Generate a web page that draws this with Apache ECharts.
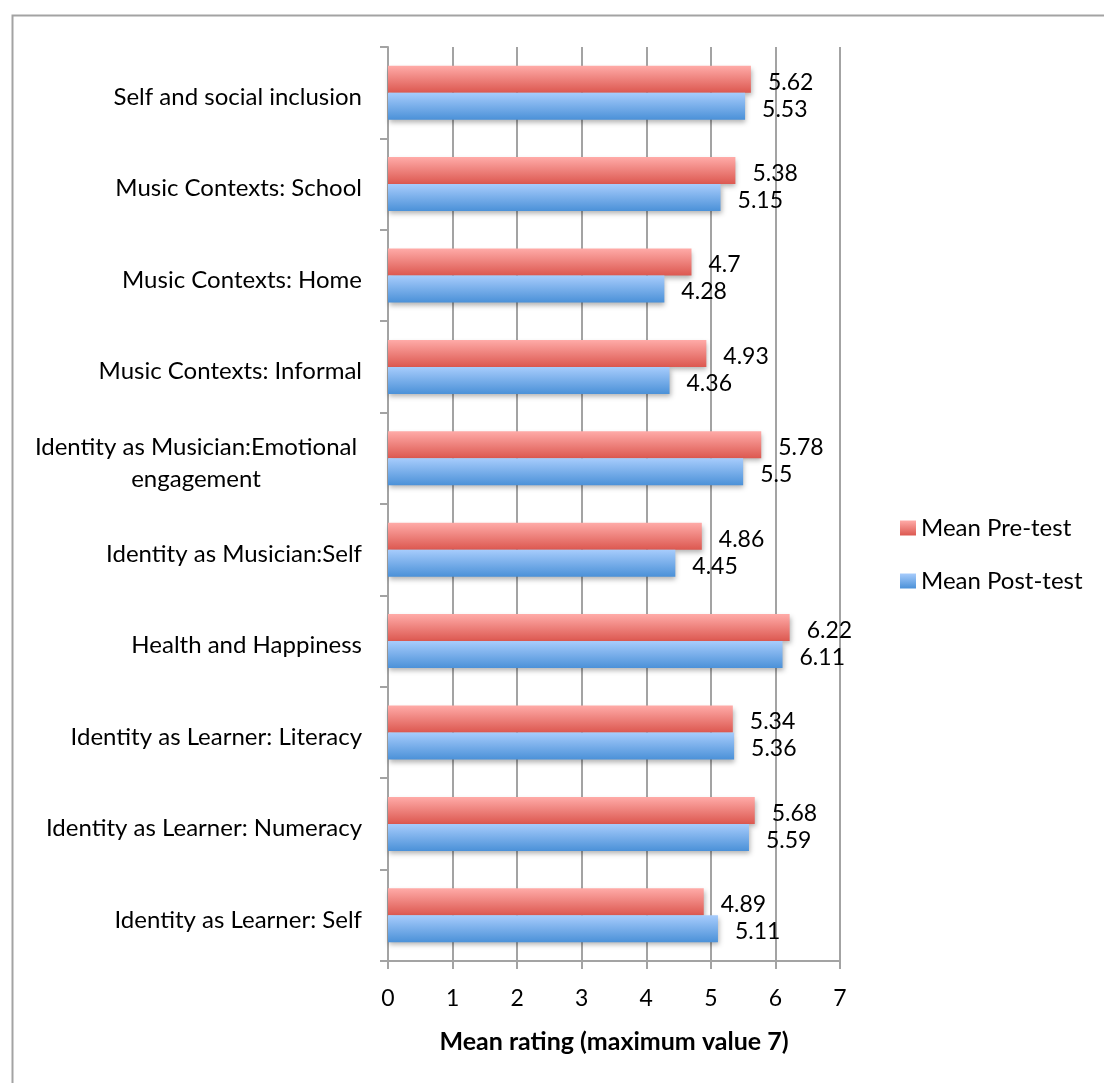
<!DOCTYPE html>
<html>
<head>
<meta charset="utf-8">
<script src="https://cdn.jsdelivr.net/npm/echarts@6/dist/echarts.min.js"></script>
<style>
  html, body { margin: 0; padding: 0; background: #fff; }
  #chart { width: 1104px; height: 1083px; }
</style>
</head>
<body>
<div id="chart"></div>
<script>
// Scale categories, listed top to bottom
const categories = [
  'Self and social inclusion',
  'Music Contexts: School',
  'Music Contexts: Home',
  'Music Contexts: Informal',
  'Identity as Musician:Emotional\nengagement',
  'Identity as Musician:Self',
  'Health and Happiness',
  'Identity as Learner: Literacy',
  'Identity as Learner: Numeracy',
  'Identity as Learner: Self'
];
const preTest  = [5.62, 5.38, 4.7, 4.93, 5.78, 4.86, 6.22, 5.34, 5.68, 4.89];
const postTest = [5.53, 5.15, 4.28, 4.36, 5.5, 4.45, 6.11, 5.36, 5.59, 5.11];
const xTicks = [0, 1, 2, 3, 4, 5, 6, 7];

const FONT = 'Lato';
const GRAY = '#a3a3a3';

function grad(top, bottom) {
  return new echarts.graphic.LinearGradient(0, 0, 0, 1, [
    { offset: 0, color: top },
    { offset: 1, color: bottom }
  ]);
}

const chart = echarts.init(document.getElementById('chart'), null, { renderer: 'canvas' });

function barSeries(name, data, top, bottom) {
  return {
    name: name,
    type: 'bar',
    data: data,
    barWidth: 27,
    barGap: '0%',
    itemStyle: {
      color: grad(top, bottom),
      shadowColor: 'rgba(0,0,0,0.3)',
      shadowBlur: 5,
      shadowOffsetX: 1,
      shadowOffsetY: 3
    },
    label: {
      show: true,
      position: 'right',
      distance: 17,
      offset: [0, 3],
      color: '#000',
      fontFamily: FONT,
      fontSize: 23,
      formatter: p => String(p.value)
    },
    emphasis: { disabled: true }
  };
}

chart.setOption({
  animation: false,
  backgroundColor: '#fff',
  textStyle: { fontFamily: FONT },
  graphic: [{
    type: 'rect',
    left: 10, top: 13,
    shape: { width: 1200, height: 1200 },
    style: { fill: 'none', stroke: GRAY, lineWidth: 2 },
    z: -1
  }],
  legend: {
    orient: 'vertical',
    left: 895,
    top: 511,
    itemWidth: 16,
    itemHeight: 15,
    itemGap: 29,
    icon: 'rect',
    textStyle: { fontFamily: FONT, fontSize: 24, color: '#000' },
    data: ['Mean Pre-test', 'Mean Post-test']
  },
  grid: { left: 388, right: 264, top: 47, bottom: 122 },
  xAxis: {
    type: 'value',
    min: xTicks[0],
    max: xTicks[xTicks.length - 1],
    interval: 1,
    axisLine: { show: true, lineStyle: { color: GRAY, width: 2 } },
    axisTick: { show: true, length: 8, lineStyle: { color: GRAY, width: 2 } },
    splitLine: { show: true, lineStyle: { color: GRAY, width: 2 } },
    axisLabel: {
      color: '#000', fontFamily: FONT, fontSize: 23, margin: 26,
      formatter: v => xTicks.includes(v) ? String(v) : ''
    },
    name: 'Mean rating (maximum value 7)',
    nameLocation: 'middle',
    nameGap: 68,
    nameTextStyle: { color: '#000', fontFamily: FONT, fontSize: 25, fontWeight: 'bold' }
  },
  yAxis: {
    type: 'category',
    inverse: true,
    data: categories,
    axisLine: { show: true, lineStyle: { color: GRAY, width: 2 } },
    axisTick: { show: true, length: 8, inside: false, lineStyle: { color: GRAY, width: 2 } },
    axisLabel: {
      color: '#000', fontFamily: FONT, fontSize: 24, margin: 26,
      padding: [9, 0, 0, 0],
      formatter: v => {
        if (v.indexOf('\n') >= 0) {
          return v.split('\n').map(s => '{c|' + s + '}').join('\n');
        }
        return v;
      },
      rich: {
        c: { width: 332, align: 'center', fontFamily: FONT, fontSize: 24, color: '#000', lineHeight: 32 }
      }
    }
  },
  series: [
    barSeries('Mean Pre-test', preTest, '#ffaba8', '#dc5850'),
    barSeries('Mean Post-test', postTest, '#a7ccfc', '#4b91d8')
  ]
});
</script>
</body>
</html>
